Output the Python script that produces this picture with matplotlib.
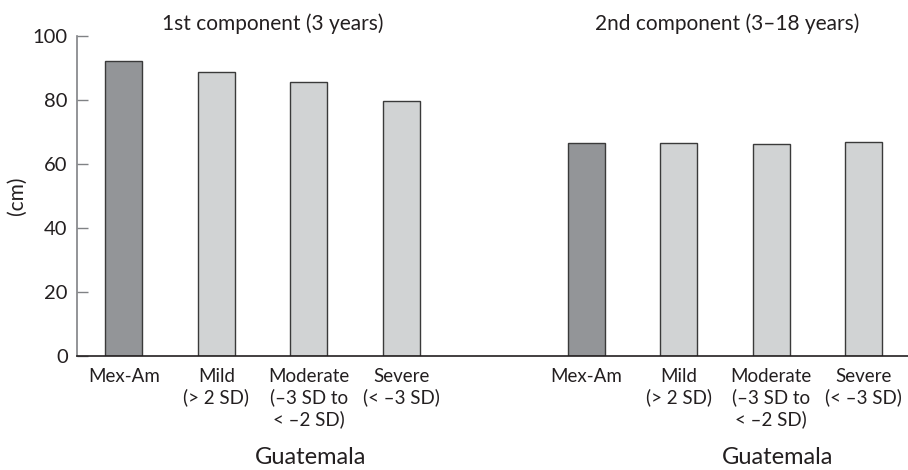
import matplotlib
matplotlib.use("Agg")
import matplotlib.pyplot as plt

plt.rcParams['font.family'] = ['Lato', 'DejaVu Sans']

categories = ["Mex-Am", "Mild\n(> 2 SD)", "Moderate\n(\u20133 SD to\n< \u20132 SD)", "Severe\n(< \u20133 SD)"]
first_component = [92.1, 88.7, 85.6, 79.6]
second_component = [66.4, 66.4, 66.1, 66.8]
spacer_value = [0]
titles = ["1st component (3 years)", "2nd component (3\u201318 years)"]
group_label = "Guatemala"
y_ticks = [0, 20, 40, 60, 80, 100]

dark = "#939598"
light = "#d1d3d4"
edge = "#3a3a3a"
text_c = "#231f20"

values = first_component + spacer_value + second_component
labels = categories + [""] + categories
colors = [dark, light, light, light, light, dark, light, light, light]
positions = list(range(len(values)))

fig = plt.figure(figsize=(9.08, 4.70), dpi=100)
ax = fig.add_axes([0.0853, 0.243, 1 - 0.0853, 0.681])

bars = ax.bar(positions, values, width=0.40, color=colors, edgecolor=edge, linewidth=1.0)
# spacer bar: faint line only
bars[4].set_edgecolor("#d8d8d8")

ax.set_xlim(-0.503, 8.48)
ax.set_ylim(0, 100)
ax.set_yticks(y_ticks)
ax.set_yticklabels([str(t) for t in y_ticks], fontsize=14.5, color=text_c)
ax.set_xticks(positions)
ax.set_xticklabels(labels, fontsize=13.5, color=text_c, linespacing=1.22)
ax.tick_params(axis='x', length=0, pad=9)
ax.tick_params(axis='y', direction='in', length=8, width=1, color="#808285", pad=7)

for s in ['top', 'right']:
    ax.spines[s].set_visible(False)
ax.spines['left'].set_color("#808285")
ax.spines['left'].set_linewidth(1.2)
ax.spines['bottom'].set_color(text_c)
ax.spines['bottom'].set_linewidth(1.2)

ax.set_ylabel("(cm)", fontsize=15, color=text_c, labelpad=4)

fig.text(272.5 / 908, 1 - 24 / 470, titles[0], ha='center', va='center', fontsize=15, color=text_c)
fig.text(727.5 / 908, 1 - 24 / 470, titles[1], ha='center', va='center', fontsize=15, color=text_c)
fig.text(311 / 908, 1 - 457 / 470, group_label, ha='center', va='center', fontsize=17, color=text_c)
fig.text(777.5 / 908, 1 - 457 / 470, group_label, ha='center', va='center', fontsize=17, color=text_c)

fig.savefig("out.png", dpi=100)
